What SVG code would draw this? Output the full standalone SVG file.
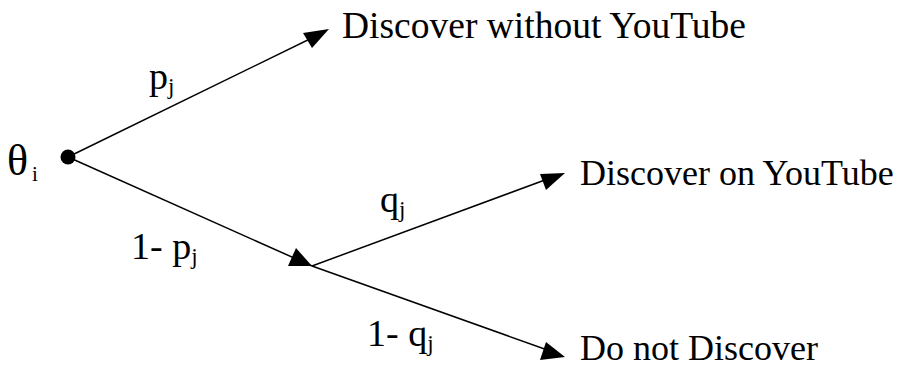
<svg xmlns="http://www.w3.org/2000/svg" width="907" height="368" viewBox="0 0 907 368">
<defs>
<style>
.big{font-size:36px}
.lab{font-size:38px}
.sub{font-size:23px}
.ln{stroke:#000;stroke-width:1.5;fill:none}
.ah{fill:#000;stroke:none}
</style>
</defs>
<rect width="907" height="368" fill="#fff"/>
<g id="connectors">
<line class="ln" x1="68" y1="157" x2="318" y2="35"/>
<polygon class="ah" points="329,29 303,33 312,48"/>
<line class="ln" x1="68" y1="157" x2="312" y2="266"/>
<polygon class="ah" points="312,266 296,248 288,266"/>
<line class="ln" x1="312" y1="266" x2="553" y2="177"/>
<polygon class="ah" points="565,173 540,174 546,190"/>
<line class="ln" x1="312" y1="266" x2="553" y2="352"/>
<polygon class="ah" points="565,357 546,342 540,360"/>
</g>
<g font-family="Liberation Serif, Tinos, Times New Roman, DejaVu Serif, serif" fill="#000">
<g id="root">
<circle cx="68" cy="157" r="7.5" fill="#000"/>
<text x="7" y="175" font-size="44">θ</text>
<text x="32" y="181" font-size="21">i</text>
</g>
<g id="n-without">
<text x="342" y="38" font-size="37.5">Discover without YouTube</text>
</g>
<g id="n-on">
<text class="big" x="580" y="185">Discover on YouTube</text>
</g>
<g id="n-not">
<text class="big" x="580" y="360">Do not Discover</text>
</g>
<g id="labels">
<text class="lab" x="149" y="89">p<tspan class="sub" dy="5">j</tspan></text>
<text class="lab" x="131" y="259">1- p<tspan class="sub" dy="5">j</tspan></text>
<text class="lab" x="380" y="212">q<tspan class="sub" dy="5">j</tspan></text>
<text class="lab" x="367" y="346">1- q<tspan class="sub" dy="5">j</tspan></text>
</g>
</g>
</svg>
